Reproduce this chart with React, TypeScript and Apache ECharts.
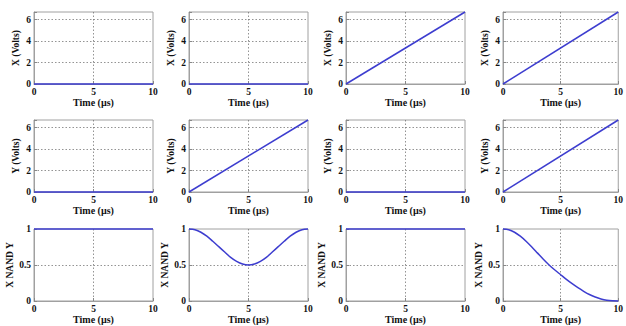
import React, { useEffect, useRef } from "react";
import * as echarts from "echarts";

const xTicks = [0, 5, 10];
const rowNames = ["X (Volts)", "Y (Volts)", "X NAND Y"];
const voltMax = 6.7;

const tRamp = [0, 10];
const rampValues = [0, 6.7];
const zeroValues = [0, 0];
const oneValues = [1, 1];

const tCurve = [0, 0.5, 1, 1.5, 2, 2.5, 3, 3.5, 4, 4.5, 5, 5.5, 6, 6.5, 7, 7.5, 8, 8.5, 9, 9.5, 10];
const nandDip = [1, 0.99, 0.955, 0.9, 0.83, 0.755, 0.68, 0.605, 0.55, 0.513, 0.5, 0.513, 0.55, 0.605, 0.68, 0.755, 0.83, 0.9, 0.955, 0.99, 1];
const nandFall = [1, 0.99, 0.955, 0.9, 0.83, 0.75, 0.665, 0.58, 0.5, 0.43, 0.365, 0.3, 0.24, 0.185, 0.135, 0.09, 0.055, 0.028, 0.01, 0.002, 0];

// [row][col] -> which data
const panels: { t: number[]; v: number[] }[][] = [
  [
    { t: tRamp, v: zeroValues },
    { t: tRamp, v: zeroValues },
    { t: tRamp, v: rampValues },
    { t: tRamp, v: rampValues },
  ],
  [
    { t: tRamp, v: zeroValues },
    { t: tRamp, v: rampValues },
    { t: tRamp, v: zeroValues },
    { t: tRamp, v: rampValues },
  ],
  [
    { t: tRamp, v: oneValues },
    { t: tCurve, v: nandDip },
    { t: tRamp, v: oneValues },
    { t: tCurve, v: nandFall },
  ],
];

const colLefts = [34, 189, 346, 503];
const rowTops = [12, 120, 229];
const plotW = 119;
const plotH = 72;

const FONT = "Liberation Serif";
const lineColor = "#3d3dcf";

export default function App() {
  const ref = useRef<HTMLDivElement>(null);
  useEffect(() => {
    if (!ref.current) return;
    const chart = echarts.init(ref.current, undefined, { renderer: "svg" });
    const grid: any[] = [];
    const xAxis: any[] = [];
    const yAxis: any[] = [];
    const series: any[] = [];
    const split = {
      show: true,
      showMinLine: false,
      showMaxLine: false,
      lineStyle: { type: [1.5, 2], color: "#666", width: 0.7 },
    };
    let idx = 0;
    for (let r = 0; r < 3; r++) {
      for (let c = 0; c < 4; c++) {
        grid.push({
          left: colLefts[c],
          top: rowTops[r],
          width: plotW,
          height: plotH,
          show: true,
          borderColor: "#a0a0a0",
          borderWidth: 1,
          backgroundColor: "#fff",
        });
        xAxis.push({
          gridIndex: idx,
          type: "value",
          min: xTicks[0],
          max: xTicks[2],
          interval: xTicks[1],
          name: "Time (µs)",
          nameLocation: "middle",
          nameGap: 11,
          nameTextStyle: { fontFamily: FONT, fontWeight: "bold", fontSize: 10, color: "#111" },
          axisLine: { show: true, lineStyle: { color: "#a0a0a0", width: 1 } },
          axisTick: { show: true, inside: true, length: 3, lineStyle: { color: "#888" } },
          axisLabel: { fontFamily: FONT, fontWeight: "bold", fontSize: 9.5, color: "#111", margin: 3 },
          splitLine: split,
        });
        const isNand = r === 2;
        yAxis.push({
          gridIndex: idx,
          type: "value",
          min: 0,
          max: isNand ? 1 : voltMax,
          interval: isNand ? 0.5 : 2,
          name: rowNames[r],
          nameLocation: "middle",
          nameGap: isNand ? 18 : 13,
          nameRotate: 90,
          nameTextStyle: { fontFamily: FONT, fontWeight: "bold", fontSize: 9.5, color: "#111" },
          axisLine: { show: true, lineStyle: { color: "#a0a0a0", width: 1 } },
          axisTick: { show: true, inside: true, length: 3, lineStyle: { color: "#888" } },
          axisLabel: {
            fontFamily: FONT,
            fontWeight: "bold",
            fontSize: 9.5,
            color: "#111",
            margin: 3,
            formatter: (v: number) => (isNand ? String(v) : Number.isInteger(v) && v % 2 === 0 ? String(v) : ""),
          },
          splitLine: split,
        });
        const p = panels[r][c];
        series.push({
          type: "line",
          xAxisIndex: idx,
          yAxisIndex: idx,
          data: p.t.map((t, i) => [t, p.v[i]]),
          showSymbol: false,
          smooth: p.t.length > 2 ? 0.3 : false,
          lineStyle: { color: lineColor, width: 1.5 },
          clip: false,
        });
        idx++;
      }
    }
    chart.setOption({
      animation: false,
      backgroundColor: "#fff",
      grid,
      xAxis,
      yAxis,
      series,
    });
    return () => chart.dispose();
  }, []);
  return (
    <div
      ref={ref}
      style={{ position: "fixed", left: 0, top: 0, width: 626, height: 326 }}
    />
  );
}
